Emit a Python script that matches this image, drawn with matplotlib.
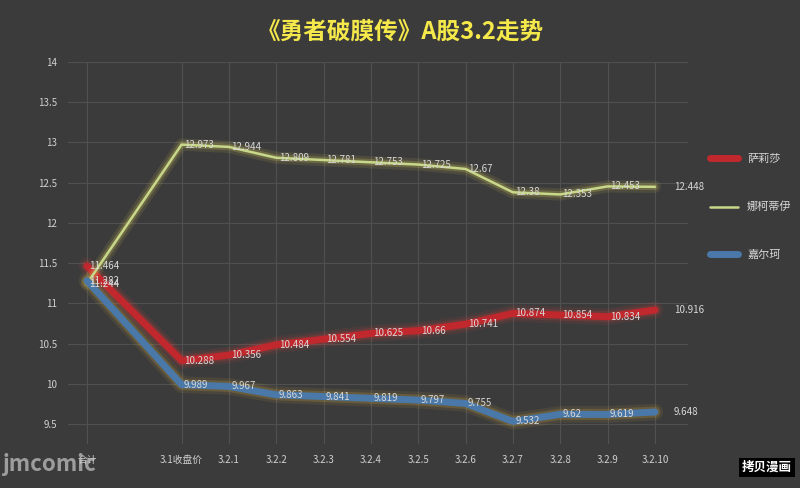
import matplotlib.pyplot as plt

plt.rcParams['font.family'] = ['Noto Sans CJK SC', 'DejaVu Sans']

categories = ["合计", "3.1收盘价", "3.2.1", "3.2.2", "3.2.3", "3.2.4", "3.2.5",
              "3.2.6", "3.2.7", "3.2.8", "3.2.9", "3.2.10"]
x_pos = [0, 2, 3, 4, 5, 6, 7, 8, 9, 10, 11, 12]
salisha = [11.464, 10.288, 10.356, 10.484, 10.554, 10.625, 10.66, 10.741, 10.874, 10.854, 10.834, 10.916]
nakediyi = [11.244, 12.973, 12.944, 12.809, 12.781, 12.753, 12.725, 12.67, 12.38, 12.353, 12.453, 12.448]
jiaerke = [11.282, 9.989, 9.967, 9.863, 9.841, 9.819, 9.797, 9.755, 9.532, 9.62, 9.619, 9.648]

series = [("萨莉莎", salisha, "#c0282d", "#e04040", 5),
          ("娜柯蒂伊", nakediyi, "#c8d88a", "#f0e060", 1.8),
          ("嘉尔珂", jiaerke, "#4a78a8", "#d8b040", 5)]

bg = "#3b3b3b"
fig = plt.figure(figsize=(8, 4.88), dpi=100, facecolor=bg)
ax = fig.add_axes([0.085, 0.09, 0.775, 0.783], facecolor=bg)

for name, vals, col, glow, lw in series:
    ax.plot(x_pos, vals, color=glow, lw=lw + 7, alpha=0.1, solid_capstyle="round")
    ax.plot(x_pos, vals, color=glow, lw=lw + 3, alpha=0.2, solid_capstyle="round")
    ax.plot(x_pos, vals, color=col, lw=lw, label=name, solid_capstyle="round")
    for i, (xx, v) in enumerate(zip(x_pos, vals)):
        dx = 0.4 if i == len(vals) - 1 else 0.05
        ax.text(xx + dx, v, f"{v:g}", color="#d8d8d8", fontsize=7, va="center")

ax.set_ylim(9.25, 14)
ax.set_xlim(-0.4, 12.7)
ax.set_yticks([9.5, 10, 10.5, 11, 11.5, 12, 12.5, 13, 13.5, 14])
ax.set_yticklabels(["9.5", "10", "10.5", "11", "11.5", "12", "12.5", "13", "13.5", "14"])
ax.set_xticks(x_pos)
ax.set_xticklabels(categories)
ax.tick_params(colors="#d0d0d0", labelsize=7, length=0, pad=8)
ax.grid(color="#505050", lw=0.8)
for s in ax.spines.values():
    s.set_visible(False)

leg = ax.legend(loc="center left", bbox_to_anchor=(1.02, 0.62), frameon=False,
                labelspacing=3.4, fontsize=8, handlelength=2.5)
for t in leg.get_texts():
    t.set_color("#d8d8d8")

fig.text(0.5, 0.935, "《勇者破膜传》A股3.2走势", ha="center", va="center",
         color="#f4e84a", fontsize=17, fontweight="bold")
fig.text(0.003, 0.035, "jmcomic", color="#c8c8c8", fontsize=16, fontweight="bold", alpha=0.7)
fig.text(0.99, 0.035, "拷贝漫画", color="white", fontsize=9, fontweight="bold", ha="right",
         bbox=dict(facecolor="black", edgecolor="none", pad=2))

fig.savefig("out.png", dpi=100, facecolor=bg)
